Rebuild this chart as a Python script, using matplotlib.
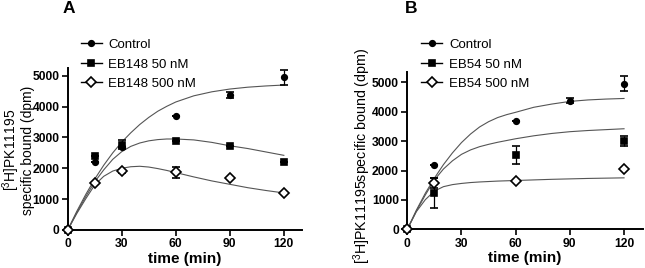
import numpy as np
import matplotlib
matplotlib.use("Agg")
import matplotlib.pyplot as plt

plt.rcParams['font.family'] = ['Liberation Sans', 'DejaVu Sans']
plt.rcParams['mathtext.default'] = 'regular'

# measured points
t_a = [0, 15, 30, 60, 90, 120]
ctrl_a = [0, 2200, 2700, 3700, 4390, 4950]
ctrl_a_err = [0, 0, 0, 0, 100, 250]
eb148_50 = [0, 2400, 2760, 2900, 2720, 2210]
eb148_50_err = [0, 0, 150, 0, 0, 0]
eb148_500 = [0, 1510, 1900, 1870, 1700, 1200]
eb148_500_err = [0, 0, 60, 170, 0, 0]

t_b_ctrl = [0, 15, 60, 90, 120]
ctrl_b = [0, 2200, 3680, 4380, 4950]
ctrl_b_err = [0, 0, 0, 90, 250]
t_b = [0, 15, 60, 120]
eb54_50 = [0, 1250, 2530, 3020]
eb54_50_err = [0, 510, 310, 170]
eb54_500 = [0, 1580, 1640, 2050]
eb54_500_err = [0, 180, 0, 0]

# fitted curves
t_fit = [0, 5, 10, 15, 20, 25, 30, 35, 40, 45, 50, 55, 60, 70, 80, 90, 100, 110, 120]
fit_ctrl_a = [0, 600, 1150, 1650, 2100, 2500, 2850, 3150, 3420, 3650, 3850, 4010, 4150, 4350, 4480, 4570, 4630, 4670, 4700]
fit_50_a = [0, 560, 1080, 1560, 1950, 2290, 2540, 2710, 2820, 2890, 2930, 2950, 2950, 2920, 2840, 2730, 2640, 2530, 2420]
fit_500_a = [0, 530, 1010, 1460, 1740, 1910, 2000, 2050, 2065, 2040, 1990, 1930, 1860, 1720, 1590, 1480, 1370, 1280, 1200]
fit_ctrl_b = [0, 650, 1230, 1740, 2200, 2600, 2950, 3240, 3480, 3660, 3800, 3900, 3980, 4150, 4260, 4350, 4400, 4430, 4450]
fit_50_b = [0, 620, 1170, 1680, 2050, 2330, 2550, 2700, 2810, 2890, 2960, 3020, 3080, 3180, 3260, 3320, 3360, 3390, 3420]
fit_500_b = [0, 600, 1010, 1300, 1450, 1520, 1560, 1590, 1610, 1625, 1640, 1650, 1660, 1680, 1700, 1715, 1730, 1740, 1750]


def style_axes(ax, ytop, xright):
    ax.set_xlim(0, xright)
    ax.set_ylim(0, ytop)
    ax.set_xticks([0, 30, 60, 90, 120])
    ax.set_yticks([0, 1000, 2000, 3000, 4000, 5000])
    for s in ['top', 'right']:
        ax.spines[s].set_visible(False)
    for s in ['left', 'bottom']:
        ax.spines[s].set_linewidth(1.4)
    ax.tick_params(direction='out', width=1.2, length=4, labelsize=8.7, pad=2)
    for lbl in ax.get_xticklabels() + ax.get_yticklabels():
        lbl.set_fontweight('bold')
    ax.set_xlabel('time (min)', fontsize=11, fontweight='bold', labelpad=1)


def draw(ax, t, y, err, marker, ms, face, label):
    ax.errorbar(t, y, yerr=err, fmt=marker, ms=ms, mfc=face, mec='black',
                mew=1.2, color='black', ecolor='black', elinewidth=0.9,
                capsize=3, capthick=0.9, clip_on=False, zorder=3)
    ax.plot([], [], marker=marker, ms=ms, mfc=face, mec='black', mew=1.2,
            color='black', lw=1.0, label=label)


fig = plt.figure(figsize=(6.45, 2.68), dpi=100)

axA = fig.add_axes([0.105, 0.142, 0.363, 0.604])
for f in [fit_ctrl_a, fit_50_a, fit_500_a]:
    axA.plot(t_fit, f, color='#555555', lw=0.8, zorder=2)
draw(axA, t_a, ctrl_a, ctrl_a_err, 'o', 4, 'black', 'Control')
draw(axA, t_a, eb148_50, eb148_50_err, 's', 5, 'black', 'EB148 50 nM')
draw(axA, t_a, eb148_500, eb148_500_err, 'D', 5.5, 'white', 'EB148 500 nM')
style_axes(axA, 5250, 130)
fig.text(0.027, 0.44, '[$^{3}$H]PK11195\nspecific bound (dpm)', fontsize=10,
         rotation=90, ha='center', va='center', linespacing=0.9)
axA.legend(loc='upper left', bbox_to_anchor=(0.117, 0.875), bbox_transform=fig.transFigure,
           frameon=False, fontsize=9.5, handlelength=1.6, handletextpad=0.5,
           labelspacing=0.55, borderaxespad=0)
fig.text(0.097, 0.995, 'A', fontsize=12.5, fontweight='bold', va='top')

axB = fig.add_axes([0.6315, 0.1444, 0.3654, 0.588])
for f in [fit_ctrl_b, fit_50_b, fit_500_b]:
    axB.plot(t_fit, f, color='#555555', lw=0.8, zorder=2)
draw(axB, t_b_ctrl, ctrl_b, ctrl_b_err, 'o', 4, 'black', 'Control')
draw(axB, t_b, eb54_50, eb54_50_err, 's', 5, 'black', 'EB54 50 nM')
draw(axB, t_b, eb54_500, eb54_500_err, 'D', 5.5, 'white', 'EB54 500 nM')
style_axes(axB, 5360, 130.5)
fig.text(0.562, 0.42, '[$^{3}$H]PK11195specific bound (dpm)', fontsize=10.3,
         rotation=90, ha='center', va='center')
axB.legend(loc='upper left', bbox_to_anchor=(0.645, 0.875), bbox_transform=fig.transFigure,
           frameon=False, fontsize=9.5, handlelength=1.6, handletextpad=0.5,
           labelspacing=0.55, borderaxespad=0)
fig.text(0.627, 0.995, 'B', fontsize=12.5, fontweight='bold', va='top')

fig.savefig('out.png', dpi=100)
